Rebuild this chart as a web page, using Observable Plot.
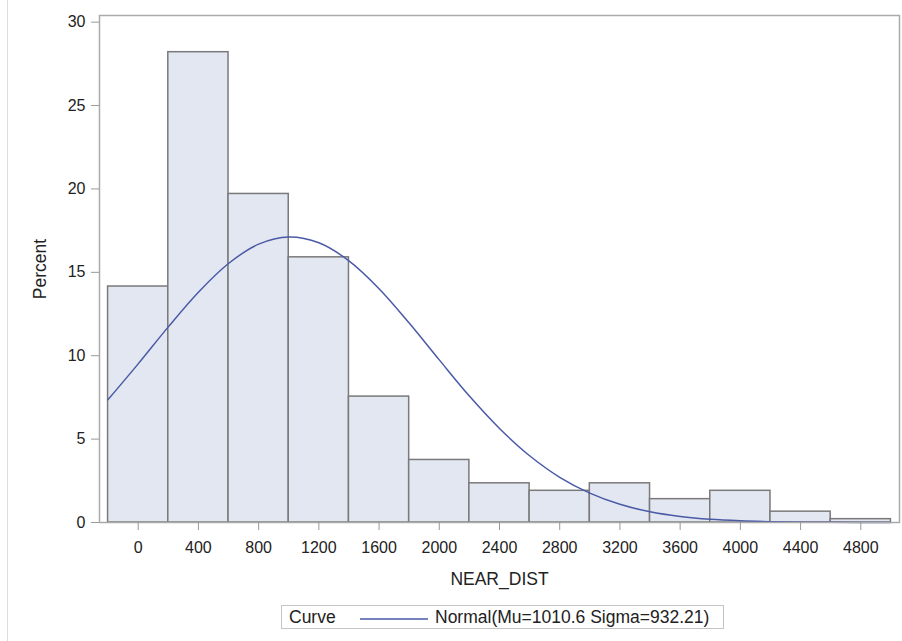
<!DOCTYPE html>
<html>
<head>
<meta charset="utf-8">
<script src="https://cdn.jsdelivr.net/npm/d3@7"></script>
<script src="https://cdn.jsdelivr.net/npm/@observablehq/plot@0.6"></script>
<style>
  html, body { margin: 0; padding: 0; background: #fff; }
  #wrap { position: relative; width: 902px; height: 641px; overflow: hidden; font-family: Arial, "Liberation Sans", sans-serif; }
  #edge { position: absolute; left: 7px; top: 0; width: 0; height: 641px; border-left: 1px solid #dcdcdc; }
  #legend { position: absolute; left: 281px; top: 605px; width: 443px; height: 24px; border: 1px solid #c4c4c4; box-sizing: border-box; font-size: 17.5px; color: #222; }
  #legend .lab { position: absolute; left: 7px; top: 1px; }
  #legend svg { position: absolute; left: 78px; top: 0; }
  #legend .txt { position: absolute; left: 153px; top: 1px; white-space: nowrap; }
</style>
</head>
<body>
<div id="wrap">
  <div id="edge"></div>
  <div id="chart"></div>
  <div id="legend">
    <span class="lab">Curve</span>
    <svg width="68" height="24"><line x1="0" y1="13" x2="68" y2="13" stroke="#4a5aa6" stroke-width="1.5"></line></svg>
    <span class="txt">Normal(Mu=1010.6 Sigma=932.21)</span>
  </div>
</div>
<script>
// Histogram midpoints (bin width 400) and percent values
const midpoints = [0, 400, 800, 1200, 1600, 2000, 2400, 2800, 3200, 3600, 4000, 4400, 4800];
const percents  = [14.15, 28.2, 19.7, 15.9, 7.55, 3.75, 2.35, 1.9, 2.35, 1.4, 1.9, 0.65, 0.2];
const binWidth = 400;

// Fitted normal curve points
const curveX = [-200, 0, 200, 400, 600, 800, 1000, 1200, 1400, 1600, 1800, 2000, 2200, 2400, 2600, 2800, 3000, 3200, 3400, 3600, 3800, 4000, 4200, 4400, 4600, 4800, 5000];
const curveY = [7.37, 9.51, 11.73, 13.81, 15.53, 16.69, 17.12, 16.77, 15.69, 14.02, 11.96, 9.75, 7.58, 5.64, 4.0, 2.71, 1.76, 1.09, 0.64, 0.36, 0.19, 0.10, 0.05, 0.02, 0.01, 0.0, 0.0];

const xTicks = [0, 400, 800, 1200, 1600, 2000, 2400, 2800, 3200, 3600, 4000, 4400, 4800];
const yTicks = [0, 5, 10, 15, 20, 25, 30];

const bars = midpoints.map((m, i) => ({x1: m - binWidth / 2, x2: m + binWidth / 2, y: percents[i]}));
const curve = curveX.map((x, i) => ({x, y: curveY[i]}));

const plot = Plot.plot({
  width: 902,
  height: 641,
  marginLeft: 99,
  marginRight: 3,
  marginTop: 15,
  marginBottom: 119,
  style: {fontFamily: 'Arial, "Liberation Sans", sans-serif', fontSize: "16px", color: "#222", background: "transparent"},
  x: {domain: [-257, 5057], ticks: xTicks, label: null},
  y: {domain: [0, 30.4], ticks: yTicks, label: null},
  marks: [
    Plot.rectY(bars, {x1: "x1", x2: "x2", y: "y", fill: "#e3e7f1", stroke: "#7a7a7a", strokeWidth: 1.5}),
    Plot.line(curve, {x: "x", y: "y", stroke: "#4a5aa6", strokeWidth: 1.5, curve: "catmull-rom"}),
    Plot.frame({stroke: "#aaaaaa", strokeWidth: 1.5}),
    Plot.axisX({ticks: xTicks, tickFormat: d => String(d), tickSize: 8, tickPadding: 11, stroke: "#999", fontSize: 16, label: "NEAR_DIST", labelAnchor: "center", labelArrow: "none", labelOffset: 62}),
    Plot.axisY({ticks: yTicks, tickFormat: d => String(d), tickSize: 8, tickPadding: 6, stroke: "#999", fontSize: 16, label: "Percent", labelAnchor: "center", labelArrow: "none", labelOffset: 66})
  ]
});
document.getElementById("chart").appendChild(plot);
plot.querySelectorAll("g[aria-label='x-axis label'] text, g[aria-label='y-axis label'] text").forEach(t => t.setAttribute("font-size", "17.5"));
</script>
</body>
</html>
